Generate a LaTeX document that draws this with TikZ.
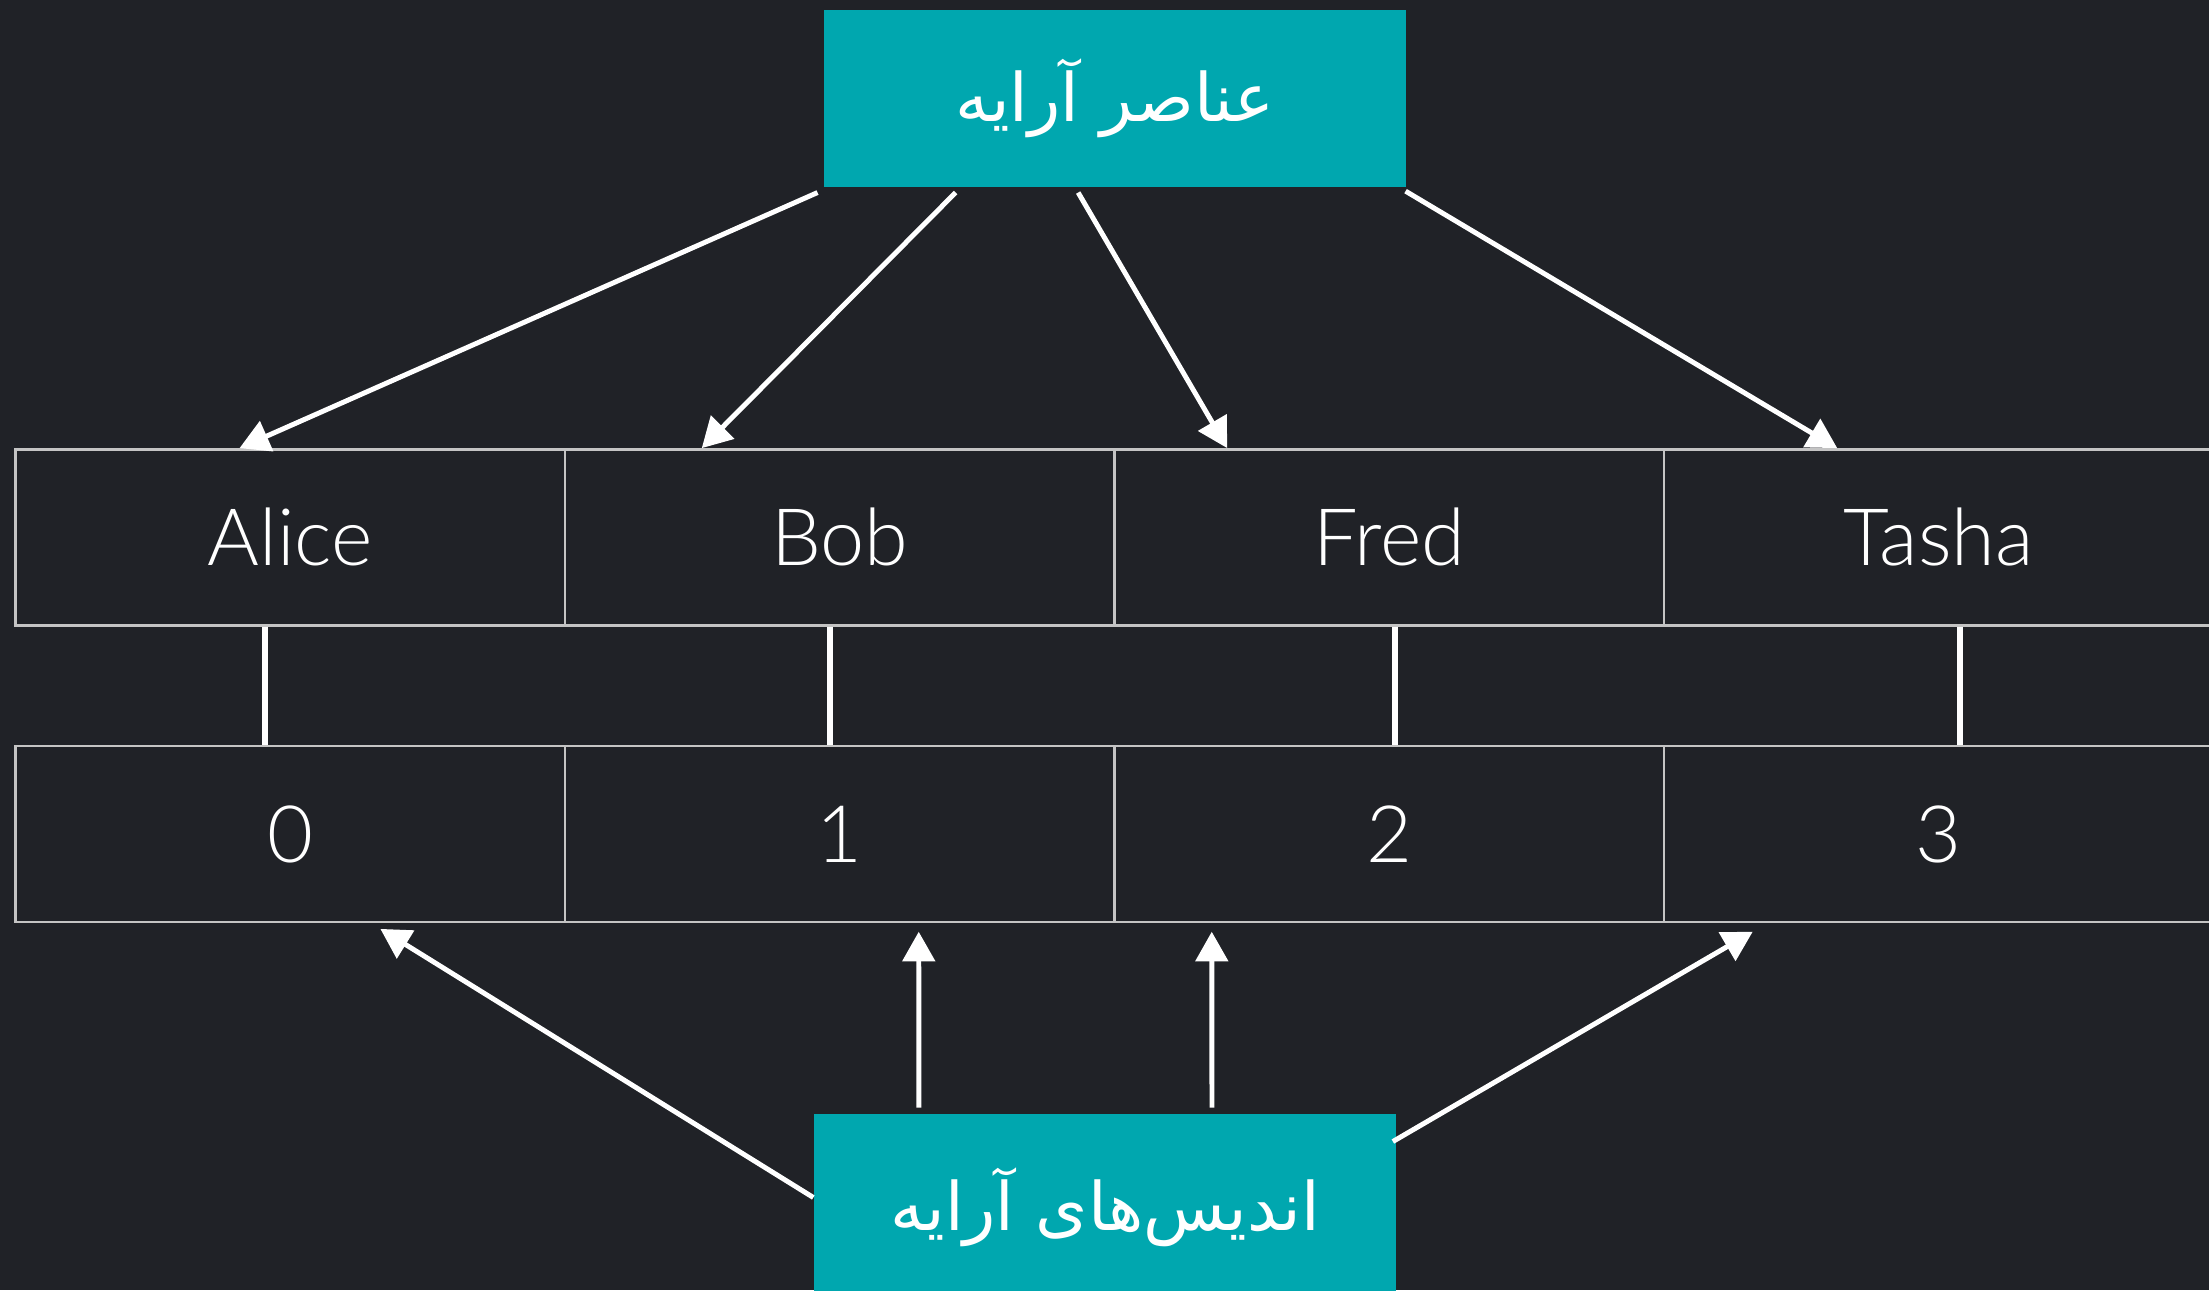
\documentclass[tikz,border=0pt]{standalone}
\usepackage{fontspec}
\usepackage{tikz}
\usetikzlibrary{arrows.meta}
\setmainfont{Lato Light}
\newfontfamily\arabicfont[Script=Arabic]{DejaVu Sans}
\TeXXeTstate=1
\definecolor{bgdark}{HTML}{202227}
\definecolor{boxteal}{HTML}{00A7AF}
\definecolor{cellgray}{HTML}{C4C4C4}
\tikzset{
  cell/.style={draw=cellgray,line width=0.5pt,rectangle,minimum width=3.9cm,minimum height=1.25cm,text=white,font=\fontsize{16}{18}\selectfont},
  labelbox/.style={fill=boxteal,rectangle,minimum width=4.13cm,minimum height=1.26cm,text=white,font=\arabicfont\fontsize{13.5}{16}\selectfont},
  arr/.style={draw=white,line width=1pt,-{Triangle[length=6pt,width=6.5pt]}}
}
\begin{document}
\begin{tikzpicture}
\fill[bgdark] (0,0) rectangle (15.68,9.16);
\useasboundingbox (0,0) rectangle (15.68,9.16);

\node [labelbox] (el) at(7.915,8.46){\beginR عناصر آرایه\endR};
\node [labelbox,minimum height=1.32cm] (ix) at(7.845,0.59){\beginR اندیس‌های آرایه\endR};

\foreach \name/\i in {Alice/0,Bob/1,Fred/2,Tasha/3}{
  \node [cell] (v\i) at(2.06+3.9*\i,5.345){\name};
  \node [cell] (n\i) at(2.06+3.9*\i,3.24){\i};
}

\foreach \i/\s in {0/-0.18,1/-0.07,2/0.04,3/0.15}
  \draw[white,line width=1.2pt] ([xshift=\s cm]v\i.south) -- ([xshift=\s cm]n\i.north);

\draw[arr] ([xshift=-0.04cm,yshift=-0.03cm]el.south west) -- ([xshift=-0.36cm]v0.north);
\draw[arr] ([xshift=0.94cm,yshift=-0.03cm]el.south west) -- ([xshift=0.98cm]v1.north west);
\draw[arr] ([xshift=1.81cm,yshift=-0.03cm]el.south west) -- ([xshift=0.81cm]v2.north west);
\draw[arr] ([xshift=-0.01cm,yshift=-0.02cm]el.south east) -- ([xshift=1.24cm]v3.north west);

%\draw[arr] (ix.north) -- (n1.south);
\draw[arr] ([yshift=0.07cm]ix.west) -- ([xshift=0.64cm,yshift=-0.04cm]n0.south);
\draw[arr] ([xshift=0.75cm,yshift=0.04cm]ix.north west) -- ([xshift=2.52cm,yshift=-0.06cm]n1.south west);
\draw[arr] ([xshift=2.83cm,yshift=0.04cm]ix.north west) -- ([xshift=0.70cm,yshift=-0.06cm]n2.south west);
\draw[arr] ([xshift=-0.03cm,yshift=-0.20cm]ix.north east) -- ([xshift=0.64cm,yshift=-0.06cm]n3.south west);
\end{tikzpicture}
\end{document}
